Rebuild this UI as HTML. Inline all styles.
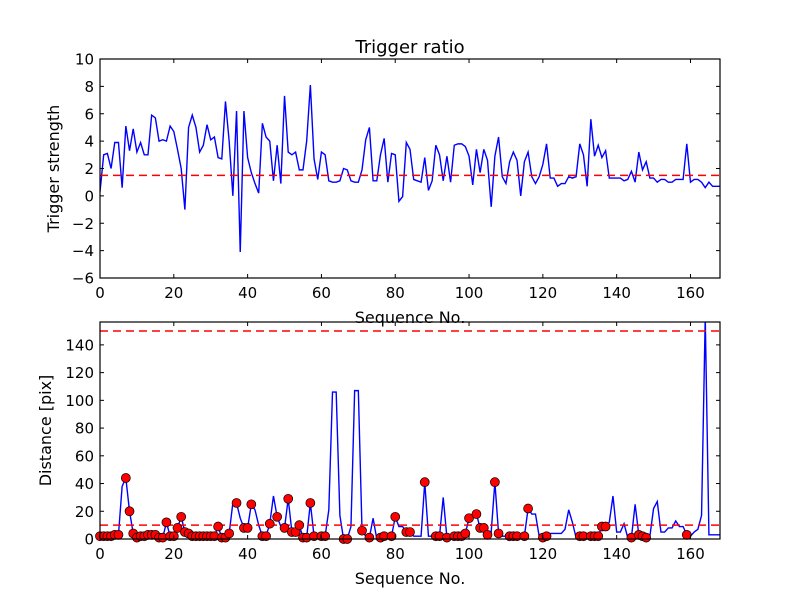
<!DOCTYPE html>
<html><head><meta charset="utf-8"><style>
body{margin:0;background:#fff;}
svg{display:block;font-family:"DejaVu Sans","Liberation Sans",sans-serif;}
</style></head><body>
<svg id="chart" width="800" height="600" xmlns="http://www.w3.org/2000/svg">
<rect width="800" height="600" fill="#fff"/>
<text x="410" y="53" font-size="18" text-anchor="middle">Trigger ratio</text>
</svg>
<script>
const strength = [0.3,3.0,3.1,2.0,3.9,3.9,0.6,5.1,3.3,4.9,3.2,3.9,3.0,3.0,5.9,5.7,4.0,4.1,4.0,5.1,4.7,3.4,2.0,-1.0,5.0,5.9,5.0,3.2,3.7,5.2,4.1,4.3,2.8,2.7,6.9,4.0,0.0,6.2,-4.1,6.2,2.8,1.7,0.9,0.2,5.3,4.3,4.0,1.1,3.7,0.9,7.3,3.2,3.0,3.2,1.9,1.9,4.0,8.1,2.7,1.2,3.2,3.0,1.1,1.0,1.0,1.1,2.0,1.9,1.1,1.0,1.0,1.9,4.1,5.0,1.1,1.1,3.0,4.2,1.0,3.1,3.0,-0.4,-0.05,3.9,3.4,1.2,1.1,1.0,2.8,0.4,1.1,3.7,3.0,1.1,2.9,1.0,3.7,3.8,3.8,3.6,2.9,0.8,3.4,1.7,3.4,2.6,-0.8,2.9,4.3,1.4,0.9,2.5,3.2,2.6,0.0,2.5,3.2,1.4,0.9,1.4,2.3,3.8,1.3,1.3,0.7,0.9,0.9,1.4,1.3,1.4,3.8,3.0,0.7,5.6,2.9,3.7,2.8,3.3,1.3,1.3,1.3,1.3,1.1,1.2,1.8,1.0,3.2,1.9,2.5,1.3,1.3,1.0,1.2,1.2,1.0,1.0,1.2,1.2,1.2,3.8,1.0,1.2,1.2,1.0,0.6,1.0,0.7,0.7,0.7];
const strengthThreshold = 1.5;
const distance = [2,2,2,2,3,3,38,44,20,4,1,2,2,3,3,3,1,1,12,2,2,8,16,5,4,2,2,2,2,2,2,2,9,1,1,4,26,26,15,8,8,25,21,10,2,2,11,31,16,9,8,29,5,5,10,1,1,26,2,2,2,2,21,106,106,17,0,0,9,107,107,6,2,1,15,0,1,2,2,2,16,9,9,5,5,2,2,2,41,2,2,2,2,30,1,1,2,2,2,4,15,16,18,8,8,3,5,41,4,2,2,2,2,2,2,2,22,18,18,2,1,2,4,4,4,4,7,21,12,1,2,2,2,2,2,2,9,9,12,31,5,5,11,1,1,25,3,2,1,2,22,27,5,5,8,8,13,9,9,3,2,5,7,17,160,3,3,3,3];
const markerIdx = [0,1,2,3,4,5,7,8,9,10,11,12,13,14,15,16,17,18,19,20,21,22,23,24,25,26,27,28,29,30,31,32,33,34,35,37,39,40,41,44,45,46,48,50,51,52,53,54,55,56,57,58,60,61,66,67,71,73,76,77,79,80,83,84,88,91,92,94,96,97,98,99,100,102,103,104,105,107,108,111,112,113,115,116,120,121,130,131,133,134,135,136,137,144,146,147,148,159];
const distThresholds = [10,150];
const xTicks = [0,20,40,60,80,100,120,140,160];
const yTicksTop = [-6,-4,-2,0,2,4,6,8,10];
const yTicksBot = [0,20,40,60,80,100,120,140];

const NS='http://www.w3.org/2000/svg';
const svg=document.getElementById('chart');
function mk(tag,attrs,parent){const e=document.createElementNS(NS,tag);for(const k in attrs)e.setAttribute(k,attrs[k]);(parent||svg).appendChild(e);return e;}
const X0=100,X1=720,XMAX=168;
const xs=v=>X0+(X1-X0)*v/XMAX;

function panel(top,bot,ymin,ymax,yTicks,name,ylabel){
  const ys=v=>bot-(bot-top)*(v-ymin)/(ymax-ymin);
  const g=mk('g',{});
  
  
  const cid='clip-'+name;
  const cp=mk('clipPath',{id:cid},g);mk('rect',{x:X0,y:top,width:X1-X0,height:bot-top},cp);
  return {g,ys,cid,top,bot,ylabel,yTicks};
}
function axes(p){
  const g=p.g;
  xTicks.forEach(t=>{const x=xs(t);
    mk('line',{x1:x,x2:x,y1:p.bot,y2:p.bot-4,stroke:'#000'},g);
    mk('line',{x1:x,x2:x,y1:p.top,y2:p.top+4,stroke:'#000'},g);
    const tx=mk('text',{x:x,y:p.bot+20,'font-size':15,'text-anchor':'middle'},g);tx.textContent=t;
    
    
  });
  p.yTicks.forEach(t=>{const y=p.ys(t);
    mk('line',{x1:X0,x2:X0+4,y1:y,y2:y,stroke:'#000'},g);
    mk('line',{x1:X1,x2:X1-4,y1:y,y2:y,stroke:'#000'},g);
    const tx=mk('text',{x:X0-6,y:y+5.5,'font-size':15,'text-anchor':'end'},g);tx.textContent=(t<0?'\u2212'+(-t):t);
    
    
  });
  mk('rect',{x:X0,y:p.top,width:X1-X0,height:p.bot-p.top,fill:'none',stroke:'#000','stroke-width':1.2},g);
  const xl=mk('text',{x:410,y:p.bot+45,'font-size':16,'text-anchor':'middle'},g);xl.textContent='Sequence No.';
  
  
  const cy=(p.top+p.bot)/2;
  const yl=mk('text',{x:0,y:0,'font-size':16,'text-anchor':'middle',transform:`translate(${p.ylabel[1]},${cy}) rotate(-90)`},g);yl.textContent=p.ylabel[0];
  
  
}

const P1=panel(59,278,-6,10,yTicksTop,'strength-panel',['Trigger strength',59]);
const l1=mk('polyline',{points:strength.map((v,i)=>xs(i)+','+P1.ys(v)).join(' '),fill:'none',stroke:'#0000ff','stroke-width':1.4,'clip-path':`url(#${P1.cid})`},P1.g);


const t1=mk('line',{x1:X0,x2:X1,y1:P1.ys(strengthThreshold),y2:P1.ys(strengthThreshold),stroke:'#ff0000','stroke-dasharray':'8,5','stroke-width':1.5},P1.g);


axes(P1);

const P2=panel(322,539,0,156.5,yTicksBot,'distance-panel',['Distance [pix]',51]);
const l2=mk('polyline',{points:distance.map((v,i)=>xs(i)+','+P2.ys(v)).join(' '),fill:'none',stroke:'#0000ff','stroke-width':1.4,'clip-path':`url(#${P2.cid})`},P2.g);


distThresholds.forEach(t=>{
  const l=mk('line',{x1:X0,x2:X1,y1:P2.ys(t),y2:P2.ys(t),stroke:'#ff0000','stroke-dasharray':'8,5','stroke-width':1.5},P2.g);
  
  
});
markerIdx.forEach(i=>{
  const c=mk('circle',{cx:xs(i),cy:P2.ys(distance[i]),r:4.5,fill:'#ff0000',stroke:'#000','stroke-width':0.7},P2.g);
  
  
});
axes(P2);
</script>
</body></html>
